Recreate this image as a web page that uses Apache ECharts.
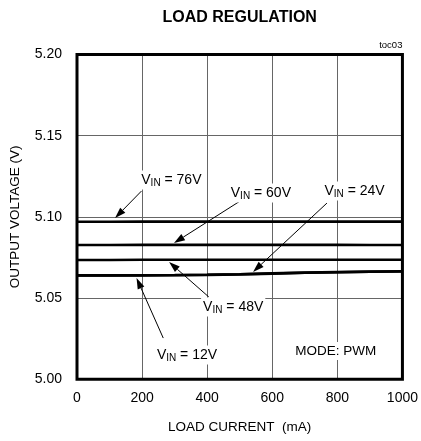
<!DOCTYPE html>
<html>
<head>
<meta charset="utf-8">
<script src="https://cdn.jsdelivr.net/npm/echarts@6/dist/echarts.min.js"></script>
<style>html,body{margin:0;padding:0;background:#fff}#c{width:421px;height:441px}</style>
</head>
<body>
<div id="c"></div>
<script>
var xValues = [0, 100, 200, 300, 400, 500, 600, 700, 800, 900, 1000];
var vin76 = [5.0970, 5.0970, 5.0971, 5.0971, 5.0971, 5.0971, 5.0971, 5.0971, 5.0971, 5.0971, 5.0971];
var vin60 = [5.0827, 5.0827, 5.0828, 5.0828, 5.0828, 5.0828, 5.0828, 5.0828, 5.0828, 5.0827, 5.0827];
var vin48 = [5.0735, 5.0735, 5.0736, 5.0736, 5.0736, 5.0736, 5.0736, 5.0736, 5.0736, 5.0736, 5.0736];
var vin24 = [5.0640, 5.0640, 5.0641, 5.0642, 5.0644, 5.0647, 5.0652, 5.0657, 5.0660, 5.0663, 5.0665];
var vin12 = [5.0639, 5.0639, 5.0640, 5.0641, 5.0643, 5.0646, 5.0651, 5.0656, 5.0659, 5.0662, 5.0664];
var xTicks = [0, 200, 400, 600, 800, 1000];
var yTicks = [5.00, 5.05, 5.10, 5.15, 5.20];

var FONT = '"Liberation Sans", Arial, sans-serif';

// annotations in data coordinates: label centre, arrow start, arrow tip
var notes = [
  {t: '76V', c: [290, 5.1227], a: [198, 5.1159], b: [117, 5.0993]},
  {t: '60V', c: [565, 5.1147], a: [511, 5.1110], b: [298, 5.0839]},
  {t: '24V', c: [853, 5.1159], a: [768, 5.1085], b: [541, 5.0661]},
  {t: '48V', c: [480, 5.0445], a: [405, 5.0507], b: [283, 5.0722]},
  {t: '12V', c: [338, 5.0150], a: [265, 5.0254], b: [183, 5.0624]}
];

function pairs(arr) { return xValues.map(function (x, i) { return [x, arr[i]]; }); }
function line(name, arr) {
  return {name: name, type: 'line', data: pairs(arr), symbol: 'none', silent: true, z: 3,
    lineStyle: {color: '#000', width: 2.6}};
}

var chart = echarts.init(document.getElementById('c'), null, {renderer: 'canvas'});
chart.setOption({
  animation: false,
  backgroundColor: '#fff',
  grid: {left: 74.5, right: 16.5, top: 54.5, bottom: 61.7, show: true,
    borderColor: '#000', borderWidth: 3, backgroundColor: 'transparent', z: 10},
  xAxis: {type: 'value', min: 0, max: 1000, interval: 200,
    name: 'LOAD CURRENT  (mA)', nameLocation: 'middle', nameGap: 41,
    nameTextStyle: {fontFamily: FONT, fontSize: 13.5, color: '#000'},
    axisLine: {show: false}, axisTick: {show: false},
    axisLabel: {fontFamily: FONT, fontSize: 14, color: '#000', margin: 12,
      formatter: function (v) { return String(v); }},
    splitLine: {show: true, lineStyle: {color: '#666', width: 1}}},
  yAxis: {type: 'value', min: 5.00, max: 5.20, interval: 0.05,
    name: 'OUTPUT VOLTAGE (V)', nameLocation: 'middle', nameGap: 55,
    nameTextStyle: {fontFamily: FONT, fontSize: 13.5, color: '#000'},
    axisLine: {show: false}, axisTick: {show: false},
    axisLabel: {fontFamily: FONT, fontSize: 14, color: '#000', margin: 15,
      formatter: function (v) { return v.toFixed(2); }},
    splitLine: {show: true, lineStyle: {color: '#666', width: 1}}},
  series: [line('VIN = 76V', vin76), line('VIN = 60V', vin60), line('VIN = 48V', vin48),
           line('VIN = 24V', vin24), line('VIN = 12V', vin12)]
});

function drawNotes() {
  var els = [];
  var tl = chart.convertToPixel({gridIndex: 0}, [0, 5.20]);
  var tr = chart.convertToPixel({gridIndex: 0}, [1000, 5.20]);
  els.push({type: 'text', z: 21, x: (tl[0] + tr[0]) / 2, y: 17.5, style: {text: 'LOAD REGULATION',
    align: 'center', verticalAlign: 'middle', fontFamily: FONT, fontWeight: 'bold', fontSize: 16, fill: '#000'}});
  notes.forEach(function (n) {
    var c = chart.convertToPixel({gridIndex: 0}, n.c);
    var a = chart.convertToPixel({gridIndex: 0}, n.a);
    var b = chart.convertToPixel({gridIndex: 0}, n.b);
    var dx = b[0] - a[0], dy = b[1] - a[1], L = Math.sqrt(dx * dx + dy * dy);
    var ux = dx / L, uy = dy / L, hl = 11, hw = 3.6;
    var bx = b[0] - ux * hl, by = b[1] - uy * hl;
    els.push({type: 'line', z: 20, shape: {x1: a[0], y1: a[1], x2: bx, y2: by},
      style: {stroke: '#000', lineWidth: 1}});
    els.push({type: 'polygon', z: 20, shape: {points: [[b[0], b[1]],
      [bx - uy * hw, by + ux * hw], [bx + uy * hw, by - ux * hw]]}, style: {fill: '#000'}});
    els.push({type: 'text', z: 21, x: c[0], y: c[1], style: {
      text: '{v|V}{s|IN}{v| = ' + n.t + '}', align: 'center', verticalAlign: 'middle',
      backgroundColor: '#fff', padding: [1, 2, 1, 2],
      rich: {v: {fontFamily: FONT, fontSize: 14, color: '#000', lineHeight: 17, verticalAlign: 'middle'},
             s: {fontFamily: FONT, fontSize: 10, color: '#000', lineHeight: 17, padding: [7, 0, 0, 0], verticalAlign: 'middle'}}}});
  });
  var m = chart.convertToPixel({gridIndex: 0}, [795, 5.0175]);
  els.push({type: 'text', z: 21, x: m[0], y: m[1], style: {text: 'MODE: PWM', align: 'center',
    verticalAlign: 'middle', backgroundColor: '#fff', padding: [2, 3, 2, 3],
    fontFamily: FONT, fontSize: 13.5, fill: '#000'}});
  els.push({type: 'text', z: 21, x: tr[0], y: tr[1] - 9, style: {text: 'toc03', align: 'right',
    verticalAlign: 'middle', fontFamily: FONT, fontSize: 9.5, fill: '#000'}});
  chart.setOption({graphic: els});
}
drawNotes();
</script>
</body>
</html>
